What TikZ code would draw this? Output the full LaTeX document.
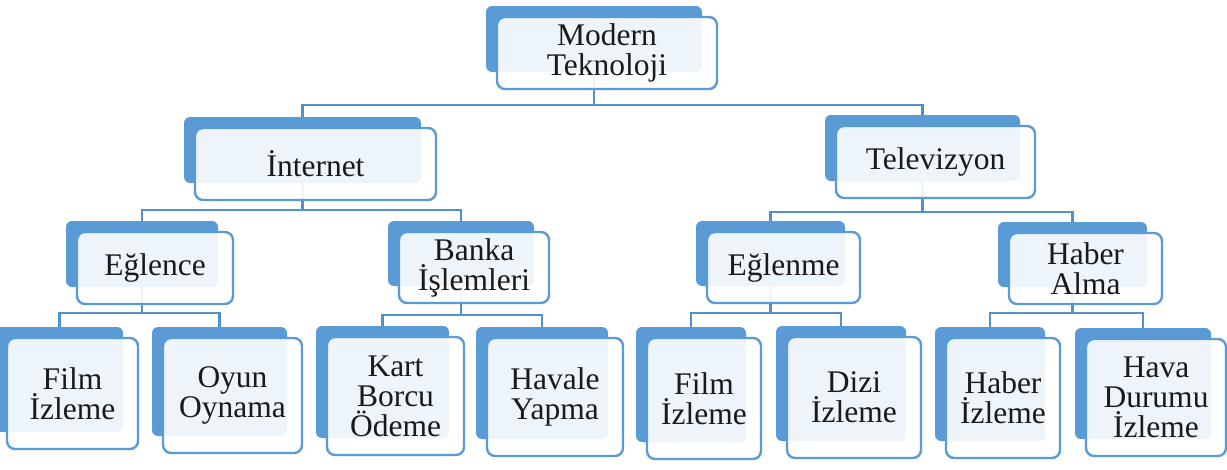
\documentclass[tikz,border=0pt]{standalone}
\usepackage{fontspec}
\setmainfont{Liberation Serif}
\definecolor{sablue}{HTML}{5B9BD5}
\definecolor{lineblue}{HTML}{5290CF}
\definecolor{txt}{HTML}{1A1A1A}
\pgfdeclarelayer{bg}
\pgfsetlayers{bg,main}
\tikzset{
  backbox/.style={fill=sablue, draw=none, rounded corners=6pt, inner sep=0pt},
  frontbox/.style={fill=white, fill opacity=0.9, text opacity=1, draw=sablue, line width=2.4pt,
    rounded corners=8pt, inner sep=0pt, align=center, text=txt,
    font=\fontsize{31.5}{30}\selectfont},
  conn/.style={draw=lineblue, line width=2.4pt}
}
% name, left, top, right, bottom, text
\newcommand\twobox[6]{%
  \node[backbox, minimum width={#4-#2-4}, minimum height={#5-#3-6}] (#1B)
     at ({(#2-11+#4-15)/2},{(#3-10+#5-16)/2}) {};
  \node[frontbox, minimum width={#4-#2}, minimum height={#5-#3}] (#1)
     at ({(#2+#4)/2},{(#3+#5)/2+1}) {#6};
}
\begin{document}
\begin{tikzpicture}[x=1pt,y=-1pt]
\useasboundingbox (0,0) rectangle (1227,469);
\twobox{m}{497}{16}{717}{88}{Modern\\Teknoloji}
\twobox{i}{195}{127}{436}{199}{İnternet}
\twobox{t}{836}{125}{1035}{197}{Televizyon}
\twobox{ea}{77}{231}{233}{303}{Eğlence}
\twobox{b}{399}{231}{549}{302}{Banka\\İşlemleri}
\twobox{eb}{707}{231}{860}{302}{Eğlenme}
\twobox{h}{1009}{232}{1162}{303}{Haber\\Alma}
\twobox{fa}{7}{337}{138}{448}{Film\\İzleme}
\twobox{o}{163}{337}{302}{452}{Oyun\\Oynama}
\twobox{k}{327}{336}{464}{454}{Kart\\Borcu\\Ödeme}
\twobox{hv}{487}{337}{623}{455}{Havale\\Yapma}
\twobox{fb}{647}{337}{761}{458}{Film\\İzleme}
\twobox{d}{787}{336}{921}{457}{Dizi\\İzleme}
\twobox{hi}{946}{337}{1060}{457}{Haber\\İzleme}
\twobox{hd}{1086}{338}{1226}{455}{Hava\\Durumu\\İzleme}
\coordinate (y0) at (0,105);
\coordinate (yi) at (0,210);
\coordinate (yt) at (0,212);
\coordinate (yea) at (0,313);
\coordinate (yb) at (0,315);
\coordinate (yeb) at (0,313);
\coordinate (yh) at (0,313);
\begin{pgfonlayer}{bg}
\fill[white] (0,0) rectangle (1227,469);
\foreach \p/\c/\y in {m/i/y0, m/t/y0, i/ea/yi, i/b/yi, t/eb/yt, t/h/yt,
  ea/fa/yea, ea/o/yea, b/k/yb, b/hv/yb, eb/fb/yeb, eb/d/yeb, h/hi/yh, h/hd/yh}{
  \draw[conn] (\p B.center) -- (\p B.center |- \y) -| (\c B.north);
}
\end{pgfonlayer}
\end{tikzpicture}
\end{document}
